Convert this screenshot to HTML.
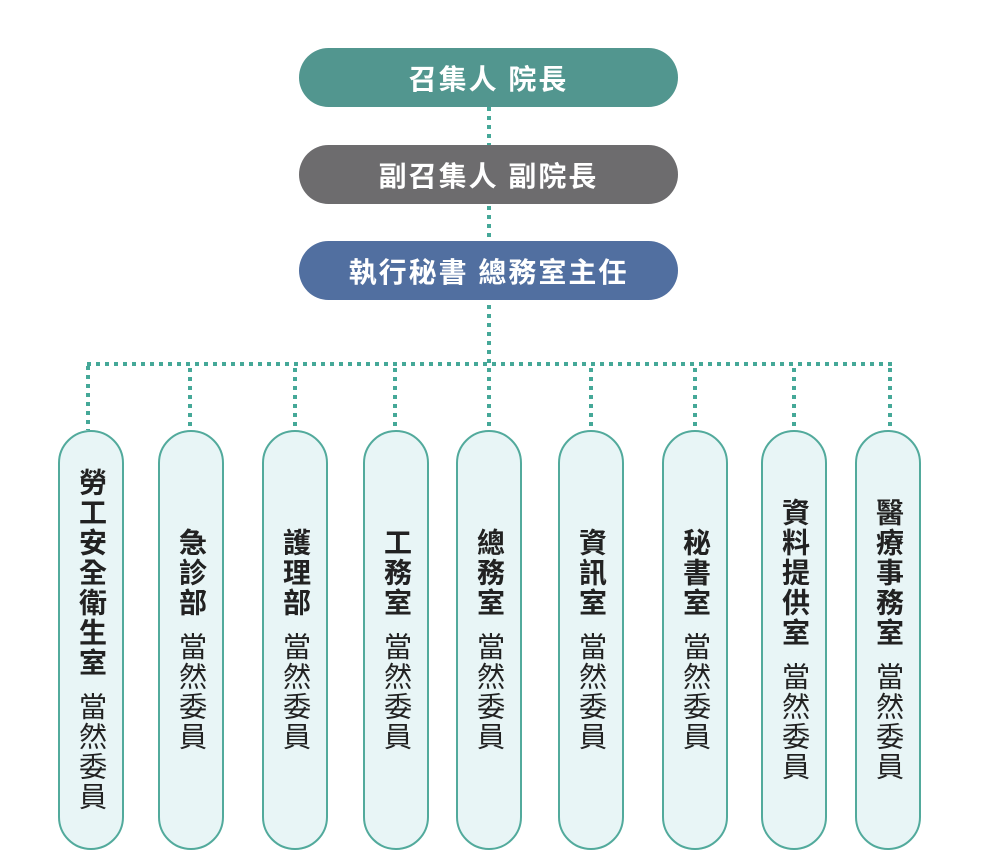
<!DOCTYPE html>
<html><head><meta charset="utf-8"><style>
body{margin:0;background:#fff;width:982px;height:853px;position:relative;overflow:hidden;font-family:"Liberation Sans","Noto Sans CJK TC",sans-serif}
.top{position:absolute;left:299px;width:379px;height:59px;border-radius:30px;color:#fff;font-weight:bold;font-size:28px;letter-spacing:2px;display:flex;align-items:center;justify-content:center}
.col{position:absolute;top:430px;width:62px;height:416px;border:2px solid #52aa9c;border-radius:33px;background:#e8f5f6;display:flex;align-items:center;justify-content:center}
.col div{writing-mode:vertical-rl;font-size:28px;letter-spacing:2px;color:#222;display:flex;align-items:center}
.col b{font-weight:bold;margin-bottom:14px}
.col span{font-weight:normal}
svg{position:absolute;left:0;top:0}
</style></head><body>
<svg width="982" height="853">
<g stroke="#45a898" stroke-width="4" stroke-dasharray="4 5" fill="none">
<line x1="489" y1="107" x2="489" y2="430"/>
<line x1="87" y1="364" x2="892" y2="364"/>
<line x1="88" y1="366" x2="88" y2="430"/>
<line x1="190" y1="368" x2="190" y2="430"/>
<line x1="295" y1="368" x2="295" y2="430"/>
<line x1="395" y1="368" x2="395" y2="430"/>
<line x1="591" y1="368" x2="591" y2="430"/>
<line x1="695" y1="368" x2="695" y2="430"/>
<line x1="794" y1="368" x2="794" y2="430"/>
<line x1="890" y1="368" x2="890" y2="430"/>
</g></svg>
<div class="top" style="top:48px;background:#52968f">召集人 院長</div>
<div class="top" style="top:145px;background:#6d6c6e">副召集人 副院長</div>
<div class="top" style="top:241px;background:#516fa0">執行秘書 總務室主任</div>
<div class="col" style="left:58px"><div><b>勞工安全衛生室</b><span>當然委員</span></div></div>
<div class="col" style="left:158px"><div><b>急診部</b><span>當然委員</span></div></div>
<div class="col" style="left:262px"><div><b>護理部</b><span>當然委員</span></div></div>
<div class="col" style="left:363px"><div><b>工務室</b><span>當然委員</span></div></div>
<div class="col" style="left:456px"><div><b>總務室</b><span>當然委員</span></div></div>
<div class="col" style="left:558px"><div><b>資訊室</b><span>當然委員</span></div></div>
<div class="col" style="left:662px"><div><b>秘書室</b><span>當然委員</span></div></div>
<div class="col" style="left:761px"><div><b>資料提供室</b><span>當然委員</span></div></div>
<div class="col" style="left:855px"><div><b>醫療事務室</b><span>當然委員</span></div></div>
</body></html>
